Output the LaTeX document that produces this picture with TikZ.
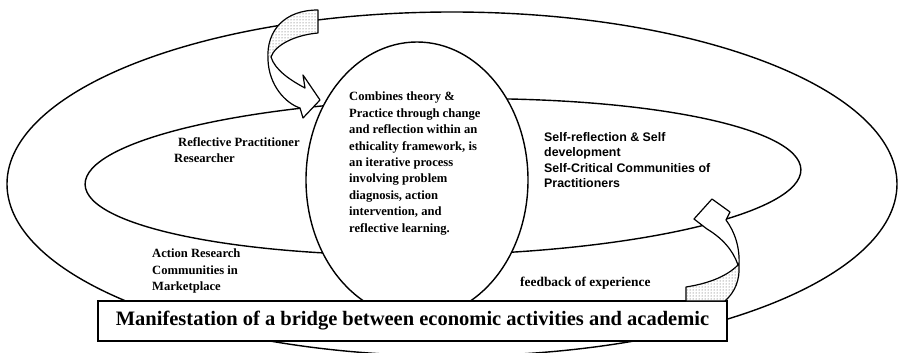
\documentclass[tikz,border=0pt]{standalone}
\usepackage{fontspec}
\setmainfont{Liberation Serif}
\setsansfont{Liberation Sans}
\usetikzlibrary{shapes.geometric,patterns}

\begin{document}
\begin{tikzpicture}[x=1pt, y=-1pt,
    ring/.style={draw, ellipse, line width=1.4pt, inner sep=0pt},
    lbl/.style={anchor=north west, inner sep=0pt, align=left, font=\fontsize{12.6}{16.4}\selectfont\bfseries},
    bentarrow/.style={draw, line width=1.2pt, fill=white, line join=round},
    speckle/.style={pattern=dots, pattern color=black!70}]

    % page size of the scan (coordinates are the pixel grid, y pointing down)
    \useasboundingbox (0,0) rectangle (898,353);

    %% ------
    %% the rings: outer loop, inner loop, and the white centre
    %% ----
    \node[ring, minimum width=890pt, minimum height=344pt] (outer) at (452,184) {};
    \node[ring, minimum width=716pt, minimum height=156pt, rotate=1.2] (inner) at (443,177) {};
    \node[ring, fill=white, minimum width=222pt, minimum height=276pt] (core) at (417,180) {};

    % banner at the bottom
    \node[draw, line width=1.4pt, fill=white, inner sep=0pt, minimum width=629pt, minimum height=40pt,
          font=\fontsize{20.5}{24}\selectfont\bfseries] (bridge) at (412.5,321)
          {Manifestation of a bridge between economic activities and academic};

    %% ------
    %% the two twisted arrows (drawn by hand)
    %% ----

    % top left: from the outer loop into the centre
    \draw[bentarrow] (318,10) .. controls (285,10) and (266,30) .. (268,60)
        .. controls (269,85) and (285,103) .. (300,108)
        -- (303,118) -- (320,100) -- (303,75) -- (305,88)
        .. controls (290,80) and (275,70) .. (271,57)
        .. controls (275,45) and (295,35) .. (318,33) -- cycle;
    \begin{scope}
        \clip (318,10) .. controls (285,10) and (266,30) .. (268,60)
            -- (271,57) .. controls (275,45) and (295,35) .. (318,33) -- cycle;
        \fill[speckle] (260,0) -- (340,0) -- (340,40) -- (271,57) -- (260,52) -- cycle;
    \end{scope}

    % bottom right: from the banner back up to the inner loop
    \draw[bentarrow] (686,301) -- (725,301) .. controls (735,292) and (740,280) .. (739,265)
        .. controls (740,248) and (735,232) .. (726,220)
        -- (730,212) -- (712,199) -- (694,219) -- (707,229)
        .. controls (722,238) and (733,250) .. (738,265)
        .. controls (725,278) and (705,284) .. (686,287) -- cycle;
    \begin{scope}
        \clip (686,301) -- (725,301) .. controls (735,292) and (740,280) .. (739,265)
            -- (738,265) .. controls (725,278) and (705,284) .. (686,287) -- cycle;
        \fill[speckle] (680,310) -- (760,310) -- (760,262) -- (738,265) -- (680,285) -- cycle;
    \end{scope}

    %% ------
    %% texts
    %% ----

    % centre
    \node[lbl] (def) at (349,92) {Combines theory \&\\Practice through change\\and reflection within an\\ethicality framework, is\\an iterative process\\involving problem\\diagnosis, action\\intervention, and\\reflective learning.};

    % left side
    \node[lbl] (refl) at (174,137) {\hspace*{4pt}Reflective Practitioner\\Researcher};
    \node[lbl] (action) at (152,249) {Action Research\\Communities in\\Marketplace};

    % right side
    \node[lbl, font=\fontsize{12.4}{15.6}\selectfont\sffamily\bfseries] (self) at (544,132)
        {Self-reflection \& Self\\development\\Self-Critical Communities of\\Practitioners};
    \node[lbl, font=\fontsize{13.4}{16.4}\selectfont\bfseries] (feedback) at (520,277) {feedback of experience};

\end{tikzpicture}
\end{document}
